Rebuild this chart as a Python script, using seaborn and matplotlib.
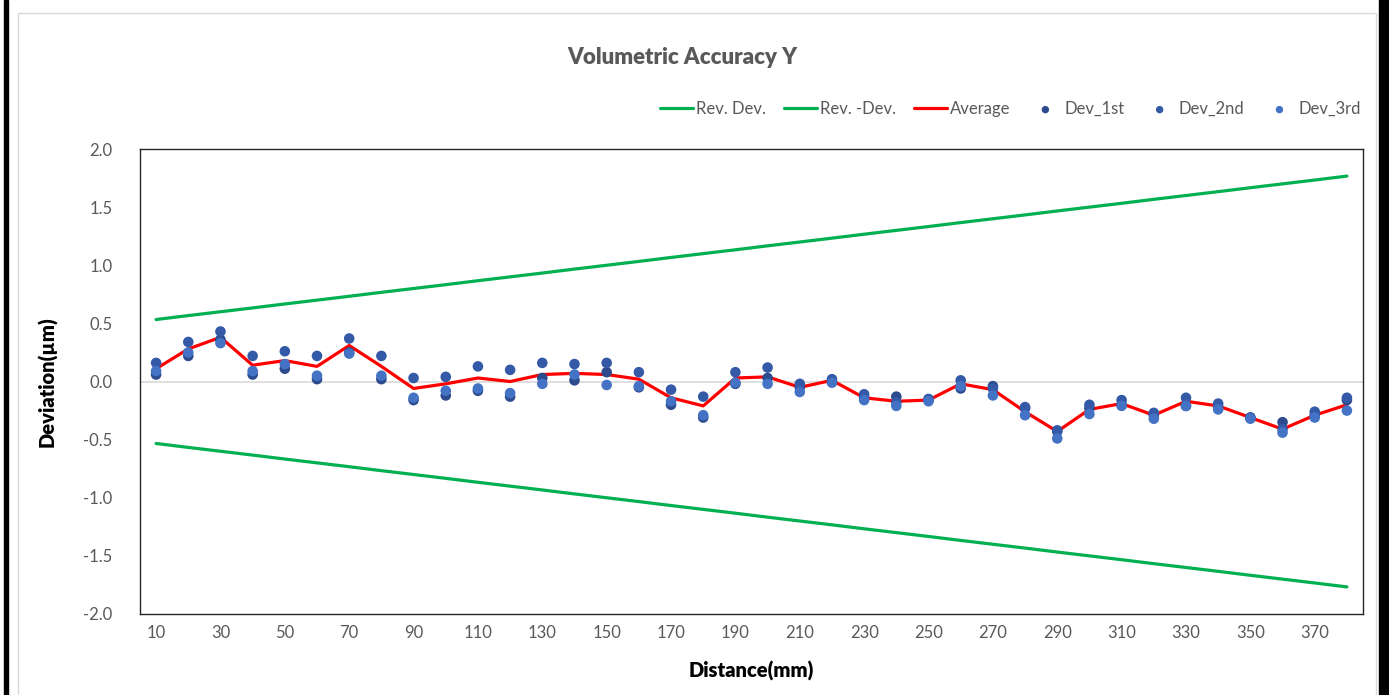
import matplotlib.pyplot as plt
import matplotlib.patches as patches
import seaborn as sns

# Data
distance = [10, 20, 30, 40, 50, 60, 70, 80, 90, 100, 110, 120, 130, 140, 150, 160, 170, 180, 190,
            200, 210, 220, 230, 240, 250, 260, 270, 280, 290, 300, 310, 320, 330, 340, 350, 360, 370, 380]

rev_dev = [0.533, 0.567, 0.600, 0.633, 0.667, 0.700, 0.733, 0.767, 0.800, 0.833, 0.867, 0.900, 0.933,
           0.967, 1.000, 1.033, 1.067, 1.100, 1.133, 1.167, 1.200, 1.233, 1.267, 1.300, 1.333, 1.367,
           1.400, 1.433, 1.467, 1.500, 1.533, 1.567, 1.600, 1.633, 1.667, 1.700, 1.733, 1.767]
rev_neg_dev = [-0.533, -0.567, -0.600, -0.633, -0.667, -0.700, -0.733, -0.767, -0.800, -0.833, -0.867,
               -0.900, -0.933, -0.967, -1.000, -1.033, -1.067, -1.100, -1.133, -1.167, -1.200, -1.233,
               -1.267, -1.300, -1.333, -1.367, -1.400, -1.433, -1.467, -1.500, -1.533, -1.567, -1.600,
               -1.633, -1.667, -1.700, -1.733, -1.767]

average = [0.11, 0.28, 0.38, 0.14, 0.18, 0.13, 0.31, 0.13, -0.06, -0.02, 0.03, 0.00, 0.06, 0.07,
           0.06, 0.02, -0.14, -0.21, 0.03, 0.04, -0.05, 0.01, -0.14, -0.17, -0.16, -0.02, -0.07,
           -0.26, -0.43, -0.24, -0.19, -0.29, -0.17, -0.21, -0.31, -0.41, -0.29, -0.20]

dev_1st = [0.06, 0.22, 0.36, 0.06, 0.11, 0.02, 0.25, 0.02, -0.16, -0.12, -0.08, -0.13, 0.03, 0.01,
           0.08, -0.05, -0.20, -0.31, -0.02, 0.03, -0.05, 0.00, -0.14, -0.13, -0.16, -0.06, -0.04,
           -0.23, -0.43, -0.23, -0.20, -0.29, -0.21, -0.22, -0.31, -0.35, -0.29, -0.16]
dev_2nd = [0.16, 0.34, 0.43, 0.22, 0.26, 0.22, 0.37, 0.22, 0.03, 0.04, 0.13, 0.10, 0.16, 0.15,
           0.16, 0.08, -0.07, -0.13, 0.08, 0.12, -0.02, 0.02, -0.11, -0.18, -0.15, 0.01, -0.06,
           -0.22, -0.42, -0.20, -0.16, -0.27, -0.14, -0.19, -0.31, -0.41, -0.26, -0.14]
dev_3rd = [0.09, 0.25, 0.33, 0.09, 0.15, 0.05, 0.24, 0.05, -0.14, -0.08, -0.06, -0.10, -0.02, 0.06,
           -0.03, -0.04, -0.17, -0.29, -0.01, -0.02, -0.09, -0.01, -0.16, -0.21, -0.17, -0.04, -0.12,
           -0.29, -0.49, -0.28, -0.21, -0.32, -0.21, -0.24, -0.32, -0.44, -0.31, -0.25]

tick_labels = [10, 30, 50, 70, 90, 110, 130, 150, 170, 190, 210, 230, 250, 270, 290, 310, 330, 350, 370]

sns.set_style('white')
plt.rcParams['font.family'] = ['Lato', 'DejaVu Sans']
plt.rcParams['axes.unicode_minus'] = False

fig = plt.figure(figsize=(13.89, 6.95), dpi=100)
ax = fig.add_axes([140 / 1389, 81 / 695, 1223 / 1389, 465 / 695])

# outer chart frame and side bars
fig.patches.append(patches.Rectangle((18 / 1389, -0.01), 1358 / 1389, 0.992, transform=fig.transFigure,
                                     fill=False, edgecolor='#d9d9d9', linewidth=1))
fig.patches.append(patches.Rectangle((4 / 1389, 0), 3.5 / 1389, 1, transform=fig.transFigure,
                                     color='black'))
fig.patches.append(patches.Rectangle((1378.5 / 1389, 0), 11 / 1389, 1, transform=fig.transFigure,
                                     color='black'))

ax.axhline(0, color='#d9d9d9', linewidth=1.2, zorder=1)

green = '#00b050'
sns.lineplot(x=distance, y=rev_dev, ax=ax, color=green, linewidth=2.3, label='Rev. Dev.', zorder=2)
sns.lineplot(x=distance, y=rev_neg_dev, ax=ax, color=green, linewidth=2.3, label='Rev. -Dev.', zorder=2)
sns.lineplot(x=distance, y=average, ax=ax, color='#ff0000', linewidth=2.3, label='Average', zorder=3)

sns.scatterplot(x=distance, y=dev_1st, ax=ax, color='#2c4a8c', s=58, edgecolor='none', label='Dev_1st', zorder=4)
sns.scatterplot(x=distance, y=dev_2nd, ax=ax, color='#3459a6', s=58, edgecolor='none', label='Dev_2nd', zorder=4)
sns.scatterplot(x=distance, y=dev_3rd, ax=ax, color='#4472c4', s=58, edgecolor='none', label='Dev_3rd', zorder=4)

ax.set_xlim(5, 385)
ax.set_ylim(-2.0, 2.0)
ax.set_xticks(tick_labels)
ax.set_xticklabels([str(t) for t in tick_labels])
ax.set_yticks([-2.0, -1.5, -1.0, -0.5, 0.0, 0.5, 1.0, 1.5, 2.0])
ax.set_yticklabels(['%.1f' % v for v in [-2.0, -1.5, -1.0, -0.5, 0.0, 0.5, 1.0, 1.5, 2.0]])
ax.tick_params(axis='y', length=0, pad=20, labelsize=12, labelcolor='#595959')
ax.tick_params(axis='x', length=0, pad=8, labelsize=12, labelcolor='#595959')

for side in ['left', 'right', 'top', 'bottom']:
    ax.spines[side].set_visible(True)
    ax.spines[side].set_color('#262626')
    ax.spines[side].set_linewidth(1)

ax.set_xlabel('Distance(mm)', fontsize=14.5, fontweight='heavy', color='black', labelpad=14)
ax.set_ylabel('Deviation(\u00b5m)', fontsize=14.5, fontweight='heavy', color='black', labelpad=18)

fig.text(682 / 1389, 1 - 57 / 695, 'Volumetric Accuracy Y', ha='center', va='center',
         fontsize=16, fontweight='heavy', color='#595959')

handles, labels = ax.get_legend_handles_labels()
ax.legend_.remove()
fig.legend(handles, labels, loc='center right', bbox_to_anchor=(1376 / 1389, 1 - 109 / 695), ncol=6,
           frameon=False, fontsize=12, labelcolor='#595959', handlelength=2.0, handletextpad=0.15,
           columnspacing=1.1, markerscale=0.7)

plt.savefig('out.png', dpi=100)
